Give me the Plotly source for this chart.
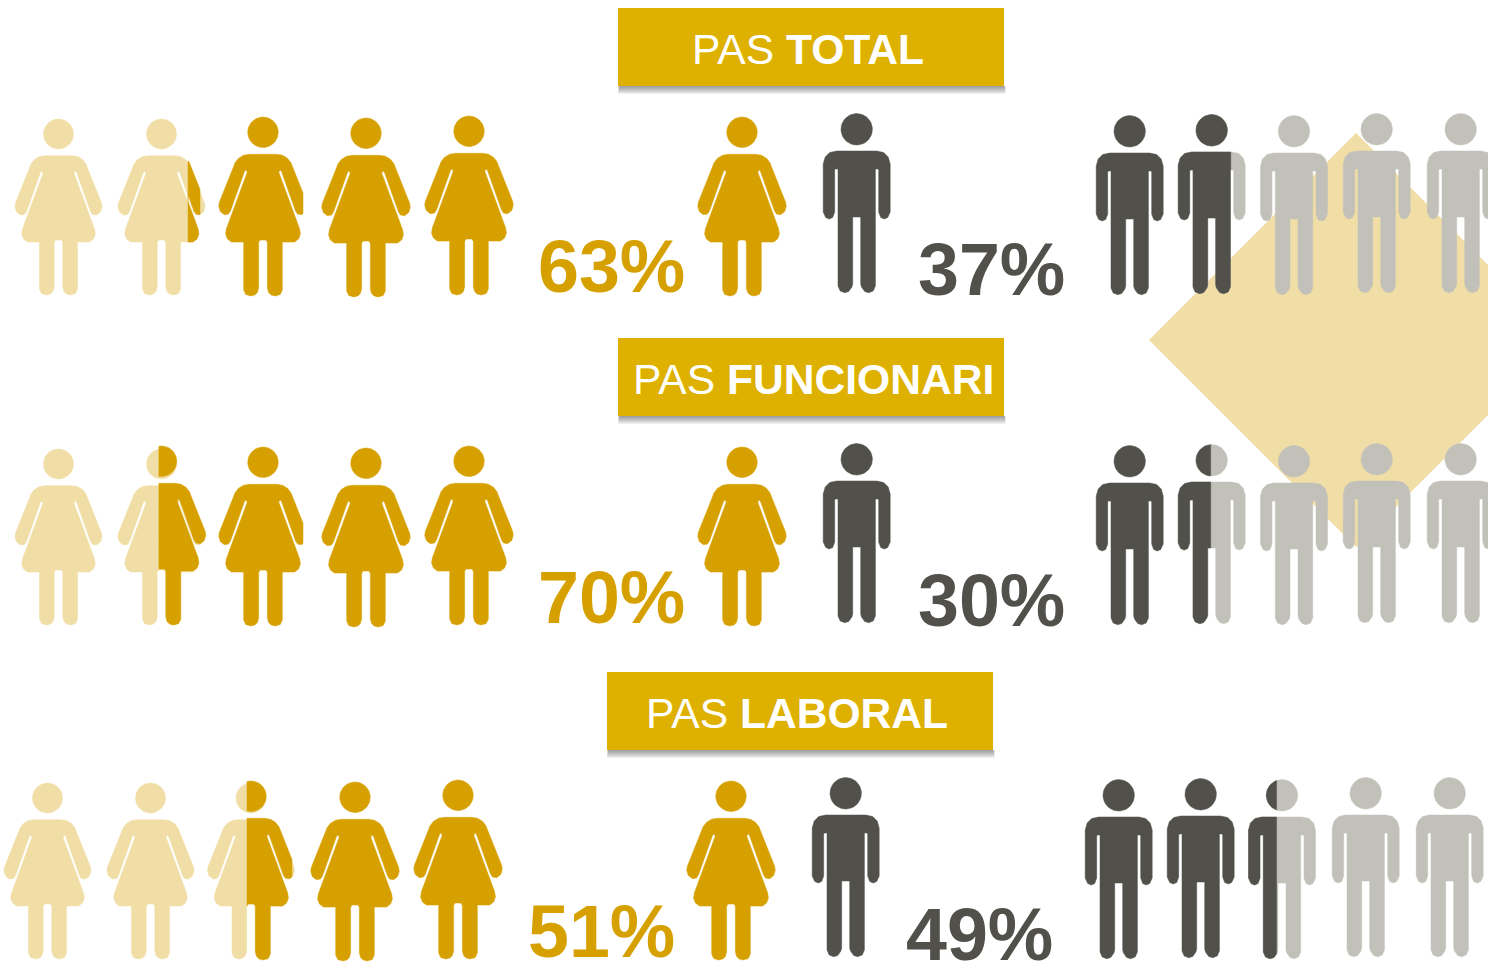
import numpy as np
import plotly.graph_objects as go

# ---- data ----
groups = ["TOTAL", "FUNCIONARI", "LABORAL"]
women_pct = [63, 70, 51]
men_pct = [37, 30, 49]
# number of solid icons out of five (as drawn, a little off the nominal share)
women_solid = [3.195, 3.53, 2.546]
men_solid = [1.78, 1.485, 2.42]
ICONS = 5

# ---- layout (pixels) ----
W, H = 1488, 962
DARK_W, LIGHT_W = "#D6A100", "#F1DEA6"
DARK_M, LIGHT_M = "#51504A", "#C2C1B9"
BANNER = "#DEB000"
row_dy = [0, 330, 664]
row_dx = [0, 0, -11]
women_x = [58.5, 161.5, 263, 366, 469]
women_top_light = [119] * 5
women_top_solid = [117, 117, 117, 118, 116]
women_partial_clip = [200, None, None]   # right limit of the solid part of the split icon
WOMAN_SOLID_CLIP_X = 303                 # third solid woman has her arm cut here
women_legend = (742, 117)
men_x = [1129.7, 1211.7, 1294, 1376.7, 1460.7]
men_top = [116, 115, 116, 114, 114]
men_legend = (856.7, 114)
banner_box = [(618, 8, 1004, 86), (618, 338, 1004, 416), (607, 672, 993, 750)]
banner_text_x = [808, 813, 797]
women_lab_x = [536.5, 536.5, 526.5]
men_lab_x = [917, 917, 905]
women_lab_y = [266, 597, 931]
men_lab_y = [269, 600, 934]


def mirrored(half):
    h = np.array(half, float)
    m = h[::-1] * np.array([-1, 1])
    return np.vstack([h, m])


WOMAN = mirrored([
    (0, 36.7), (13, 36.7), (19, 37.5), (24, 40.5), (27.5, 45), (29, 49), (43, 84), (43.5, 88),
    (42, 93), (38, 96), (34, 95.5), (32, 92.5), (18, 53), (17, 52.3), (16, 53), (15.6, 54.5),
    (36, 110), (36.8, 115), (35, 120), (31, 123), (19, 123), (19, 170), (17, 174.5), (12, 176),
    (8, 175), (5.5, 172.5), (4.3, 168), (4.3, 123.5), (3, 121), (0, 121),
])
MAN = mirrored([
    (0, 37), (20, 37), (27, 38.5), (31.5, 43), (33.5, 50), (33.5, 98), (31, 103.5), (27.5, 105),
    (24, 103.5), (22, 98), (22, 56), (21.5, 55), (18.7, 55), (18.7, 172), (16.5, 177), (12, 178.7),
    (8, 177.5), (4.8, 173), (4, 170), (4, 103), (0, 103),
])
t = np.linspace(0, 2 * np.pi, 49)


def head(cy, r):
    return np.column_stack([r * np.cos(t), cy + r * np.sin(t)])


def clip(poly, xlim, keep_right):
    """Half-plane clip of a polygon at x = xlim."""
    out = []
    n = len(poly)
    inside = (lambda p: p[0] >= xlim) if keep_right else (lambda p: p[0] <= xlim)
    for i in range(n):
        a, b = poly[i], poly[(i + 1) % n]
        ia, ib = inside(a), inside(b)
        if ia:
            out.append(a)
        if ia != ib:
            f = (xlim - a[0]) / (b[0] - a[0])
            out.append(a + f * (b - a))
    return np.array(out) if out else np.empty((0, 2))


def icon(kind, cx, top, scale=1.0, left=None, right=None):
    if kind == "w":
        parts = [WOMAN, head(15, 15)]
    else:
        parts = [MAN, head(15.3, 15.7)]
    res = []
    for p in parts:
        q = p * scale + np.array([cx, top])
        if left is not None:
            q = clip(q, left, True)
        if right is not None and len(q):
            q = clip(q, right, False)
        if len(q):
            res.append(q)
    return res


class Layer:
    def __init__(self):
        self.x, self.y = [], []

    def add(self, polys):
        for p in polys:
            self.x += list(p[:, 0]) + [p[0, 0], None]
            self.y += list(p[:, 1]) + [p[0, 1], None]


lw, dw, lm, dm = Layer(), Layer(), Layer(), Layer()
SW = 1.017
ICON_W = 87
ICON_M = 68
for r in range(3):
    dx, dy = row_dx[r], row_dy[r]
    # women: solid icons fill from the right
    s = women_solid[r]
    for i in range(ICONS):
        from_right = ICONS - i
        cx = women_x[i] + dx
        if from_right <= int(s):
            cl = WOMAN_SOLID_CLIP_X + dx if i == 2 else None
            dw.add(icon("w", cx, women_top_solid[i] + dy, SW, right=cl))
        elif from_right == int(s) + 1:
            frac = s - int(s)
            if r == 2:
                cx -= 1
            lw.add(icon("w", cx, women_top_light[i] + dy))
            split = cx + ICON_W / 2 - frac * ICON_W
            cl = women_partial_clip[r]
            if i == 2:
                cl = WOMAN_SOLID_CLIP_X + dx
            dw.add(icon("w", cx, women_top_solid[i] + dy - (1 if r == 1 else 0), SW, left=split, right=cl))
        else:
            lw.add(icon("w", cx, women_top_light[i] + dy))
    dw.add(icon("w", women_legend[0] + dx, women_legend[1] + dy, SW))
    # men: solid icons fill from the left
    s = men_solid[r]
    for i in range(ICONS):
        cx = men_x[i] + dx
        if i + 1 <= int(s):
            dm.add(icon("m", cx, men_top[i] + dy))
        elif i == int(s):
            frac = s - int(s)
            if r == 2:
                cx -= 1
            lm.add(icon("m", cx, men_top[i] + dy))
            dm.add(icon("m", cx, men_top[i] + dy, right=cx - ICON_M / 2 + frac * ICON_M))
        else:
            lm.add(icon("m", cx, men_top[i] + dy))
    dm.add(icon("m", men_legend[0] + dx, men_legend[1] + dy))

fig = go.Figure()
for lay, col in [(lw, LIGHT_W), (lm, LIGHT_M), (dw, DARK_W), (dm, DARK_M)]:
    fig.add_trace(go.Scatter(x=lay.x, y=lay.y, mode="lines", fill="toself", fillcolor=col,
                             line=dict(width=0.5, color=col), hoverinfo="skip", showlegend=False))

shapes = [dict(type="path", path="M1149,340 L1356,133 L1563,340 L1356,547 Z",
               fillcolor=LIGHT_W, line=dict(width=0), layer="below")]
annots = []
for r, (x0, y0, x1, y1) in enumerate(banner_box):
    for k in range(8, 0, -1):
        shapes.append(dict(type="rect", x0=x0 + 2 - k * 0.25, x1=x1 + k * 0.2, y0=y1, y1=y1 + k,
                           fillcolor="rgba(70,70,70,0.08)", line=dict(width=0), layer="below"))
    shapes.append(dict(type="rect", x0=x0, x1=x1, y0=y0, y1=y1, fillcolor=BANNER,
                       line=dict(width=0), layer="below"))
    annots.append(dict(x=banner_text_x[r], y=(y0 + y1) / 2 + 2, xref="x", yref="y",
                       text=f"PAS <b>{groups[r]}</b>", showarrow=False, xanchor="center", yanchor="middle",
                       font=dict(family="Liberation Sans", size=42.6, color="white")))
    annots.append(dict(x=women_lab_x[r], y=women_lab_y[r], xref="x", yref="y", text=f"<b>{women_pct[r]}%</b>",
                       showarrow=False, xanchor="left", yanchor="middle",
                       font=dict(family="Liberation Sans", size=73.6, color=DARK_W), borderpad=0))
    annots.append(dict(x=men_lab_x[r], y=men_lab_y[r], xref="x", yref="y", text=f"<b>{men_pct[r]}%</b>",
                       showarrow=False, xanchor="left", yanchor="middle",
                       font=dict(family="Liberation Sans", size=73.6, color=DARK_M), borderpad=0))

fig.update_layout(width=W, height=H, margin=dict(l=0, r=0, t=0, b=0), paper_bgcolor="white",
                  plot_bgcolor="white", shapes=shapes, annotations=annots,
                  xaxis=dict(range=[0, W], visible=False, fixedrange=True),
                  yaxis=dict(range=[H, 0], visible=False, fixedrange=True))
fig.write_html("out.html", config={"displayModeBar": False},
               post_script="document.body.style.margin='0';document.body.style.overflow='hidden';")
